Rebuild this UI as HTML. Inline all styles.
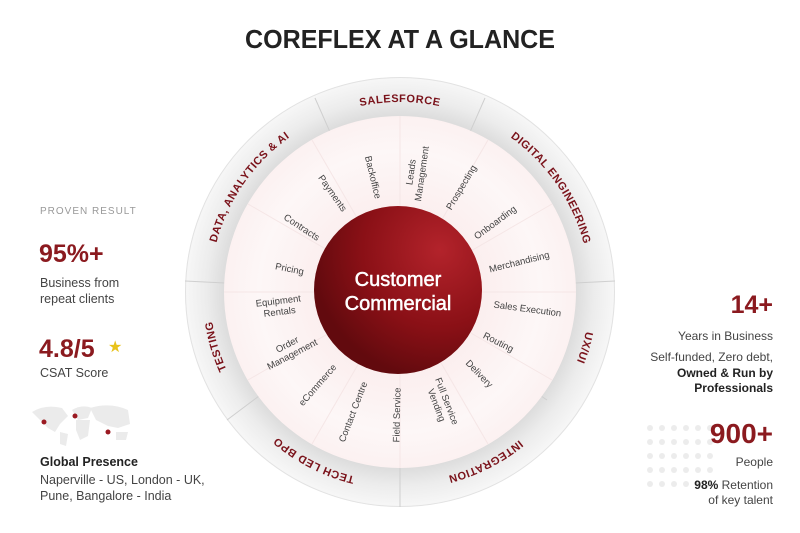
<!DOCTYPE html>
<html><head><meta charset="utf-8"><style>
html,body{margin:0;padding:0;background:#fff;width:800px;height:533px;overflow:hidden}
svg{display:block}
</style></head><body>
<svg width="800" height="533" viewBox="0 0 800 533" xmlns="http://www.w3.org/2000/svg" font-family="Liberation Sans, sans-serif">
<defs>
<radialGradient id="ring" cx="400" cy="292" r="215" gradientUnits="userSpaceOnUse">
<stop offset="0.8" stop-color="#d9d9d9"/><stop offset="0.9" stop-color="#ececec"/><stop offset="1" stop-color="#f7f7f7"/>
</radialGradient>
<radialGradient id="inner" cx="400" cy="292" r="176" gradientUnits="userSpaceOnUse">
<stop offset="0.45" stop-color="#fbeeee"/><stop offset="0.8" stop-color="#fdf7f7"/><stop offset="1" stop-color="#fcf1f1"/>
</radialGradient>
<radialGradient id="core" cx="440" cy="250" r="130" gradientUnits="userSpaceOnUse">
<stop offset="0" stop-color="#b3232b"/><stop offset="0.6" stop-color="#8a1016"/><stop offset="1" stop-color="#620a0e"/>
</radialGradient>
<path id="rp" d="M400,482 A190,190 0 1 1 400,102 A190,190 0 1 1 400,482 A190,190 0 1 1 400,102 A190,190 0 1 1 400,482"/>
</defs>
<text x="400" y="48" text-anchor="middle" font-size="26" font-weight="bold" fill="#222" textLength="310" lengthAdjust="spacingAndGlyphs">COREFLEX AT A GLANCE</text>

<circle cx="400" cy="292" r="215" fill="url(#ring)"/>
<circle cx="400" cy="292" r="214.5" fill="none" stroke="#e2e2e2"/>
<g stroke="#cfcfcf" stroke-width="1">
<line x1="315" y1="98" x2="330" y2="132"/>
<line x1="485" y1="98" x2="470" y2="132"/>
<line x1="185" y1="281" x2="225" y2="283"/>
<line x1="615" y1="281" x2="575" y2="283"/>
<line x1="227" y1="420" x2="259" y2="396"/>
<line x1="547" y1="400" x2="541" y2="396"/>
<line x1="400" y1="507" x2="400" y2="467"/>
</g>
<circle cx="400" cy="292" r="176" fill="url(#inner)"/>
<g stroke="#f5e6e6" stroke-width="1">
<line x1="400" y1="292" x2="400" y2="116"/>
<line x1="400" y1="292" x2="576" y2="292"/>
<line x1="400" y1="292" x2="224" y2="292"/>
<line x1="400" y1="292" x2="400" y2="468"/>
<line x1="400" y1="292" x2="552" y2="204"/>
<line x1="400" y1="292" x2="248" y2="204"/>
<line x1="400" y1="292" x2="552" y2="380"/>
<line x1="400" y1="292" x2="248" y2="380"/>
<line x1="400" y1="292" x2="488" y2="140"/>
<line x1="400" y1="292" x2="312" y2="140"/>
<line x1="400" y1="292" x2="488" y2="444"/>
<line x1="400" y1="292" x2="312" y2="444"/>
</g>
<circle cx="398" cy="290" r="84" fill="url(#core)"/>
<g fill="#fff" stroke="#fff" stroke-width="0.5" font-size="20" text-anchor="middle">
<text x="398" y="286">Customer</text>
<text x="398" y="310">Commercial</text>
</g>

<g font-size="11" font-weight="bold" fill="#7a121a" letter-spacing="0.5">
<text><textPath href="#rp" startOffset="1790" text-anchor="middle">SALESFORCE</textPath></text>
<text><textPath href="#rp" startOffset="1974" text-anchor="middle">DIGITAL ENGINEERING</textPath></text>
<text><textPath href="#rp" startOffset="2144" text-anchor="middle">UX/UI</textPath></text>
<text><textPath href="#rp" startOffset="2298" text-anchor="middle">INTEGRATION</textPath></text>
<text><textPath href="#rp" startOffset="1283" text-anchor="middle">TECH LED BPO</textPath></text>
<text><textPath href="#rp" startOffset="1437" text-anchor="middle">TESTING</textPath></text>
<text><textPath href="#rp" startOffset="1607" text-anchor="middle">DATA, ANALYTICS &amp; AI</textPath></text>
</g>

<g font-size="9.5" fill="#444" text-anchor="middle">
<text transform="translate(527,312) rotate(7.6)">Sales Execution</text>
<text transform="translate(497,345) rotate(27)">Routing</text>
<text transform="translate(477,376) rotate(46)">Delivery</text>
<text transform="translate(442,403) rotate(69)"><tspan x="0" y="-2">Full Service</tspan><tspan x="0" y="9">Vending</tspan></text>
<text transform="translate(400,415) rotate(-88.6)">Field Service</text>
<text transform="translate(356,413) rotate(-68.8)">Contact Centre</text>
<text transform="translate(320,387) rotate(-48.9)">eCommerce</text>
<text transform="translate(290,350) rotate(-27.8)"><tspan x="0" y="-3">Order</tspan><tspan x="0" y="8">Management</tspan></text>
<text transform="translate(279,307) rotate(-7)"><tspan x="0" y="-3">Equipment</tspan><tspan x="0" y="8">Rentals</tspan></text>
<text transform="translate(289,272) rotate(11.5)">Pricing</text>
<text transform="translate(300,230) rotate(33)">Contracts</text>
<text transform="translate(330,195) rotate(55)">Payments</text>
<text transform="translate(370,178) rotate(76.4)">Backoffice</text>
<text transform="translate(417,173) rotate(-81.9)"><tspan x="0" y="-3">Leads</tspan><tspan x="0" y="8">Management</tspan></text>
<text transform="translate(464,189) rotate(-59.4)">Prospecting</text>
<text transform="translate(497,225) rotate(-36.4)">Onboarding</text>
<text transform="translate(520,265) rotate(-14)">Merchandising</text>
</g>

<!-- left -->
<text x="40" y="214" font-size="10" fill="#999" letter-spacing="1">PROVEN RESULT</text>
<text x="39" y="262" font-size="25" font-weight="bold" fill="#8b1a1f">95%+</text>
<text x="40" y="287" font-size="12.5" fill="#444">Business from</text>
<text x="40" y="303" font-size="12.5" fill="#444">repeat clients</text>
<text x="39" y="357" font-size="25" font-weight="bold" fill="#8b1a1f">4.8/5</text>
<text x="108" y="352" font-size="16" fill="#e8c21a">★</text>
<text x="40" y="377" font-size="12.5" fill="#444">CSAT Score</text>
<g fill="#ebebeb">
<path d="M32,412 Q45,404 62,408 L68,416 L60,424 L55,432 L48,428 L40,420 Z"/>
<path d="M60,432 L68,434 L66,446 L60,444 Z"/>
<path d="M72,410 Q82,404 92,408 L88,418 L78,420 Z"/>
<path d="M76,420 L90,420 L88,436 L80,440 L76,430 Z"/>
<path d="M90,408 Q110,402 128,410 L130,424 L118,428 L108,426 L96,420 Z"/>
<path d="M116,432 L128,432 L126,440 L116,440 Z"/>
</g>
<g fill="#9b1a22"><circle cx="44" cy="422" r="2.5"/><circle cx="75" cy="416" r="2.5"/><circle cx="108" cy="432" r="2.5"/></g>
<text x="40" y="466" font-size="12.5" font-weight="bold" fill="#222">Global Presence</text>
<text x="40" y="484" font-size="12.5" fill="#444">Naperville - US, London - UK,</text>
<text x="40" y="500" font-size="12.5" fill="#444">Pune, Bangalore - India</text>

<!-- right -->
<g fill="#ececec">
<g id="pr"><circle cx="650" cy="428" r="3"/><circle cx="662" cy="428" r="3"/><circle cx="674" cy="428" r="3"/><circle cx="686" cy="428" r="3"/><circle cx="698" cy="428" r="3"/><circle cx="710" cy="428" r="3"/></g>
<use href="#pr" y="14"/><use href="#pr" y="28"/><use href="#pr" y="42"/><use href="#pr" y="56"/>
</g>
<g text-anchor="end">
<text x="773" y="313" font-size="25" font-weight="bold" fill="#8b1a1f">14+</text>
<text x="773" y="340" font-size="12" fill="#444">Years in Business</text>
<text x="773" y="361" font-size="12" fill="#444">Self-funded, Zero debt,</text>
<text x="773" y="377" font-size="12" font-weight="bold" fill="#222">Owned &amp; Run by</text>
<text x="773" y="392" font-size="12" font-weight="bold" fill="#222">Professionals</text>
<text x="773" y="443" font-size="28" font-weight="bold" fill="#8b1a1f">900+</text>
<text x="773" y="466" font-size="12" fill="#444">People</text>
<text x="773" y="489" font-size="12" fill="#444"><tspan font-weight="bold" fill="#222">98%</tspan> Retention</text>
<text x="773" y="504" font-size="12" fill="#444">of key talent</text>
</g>
</svg>
</body></html>
